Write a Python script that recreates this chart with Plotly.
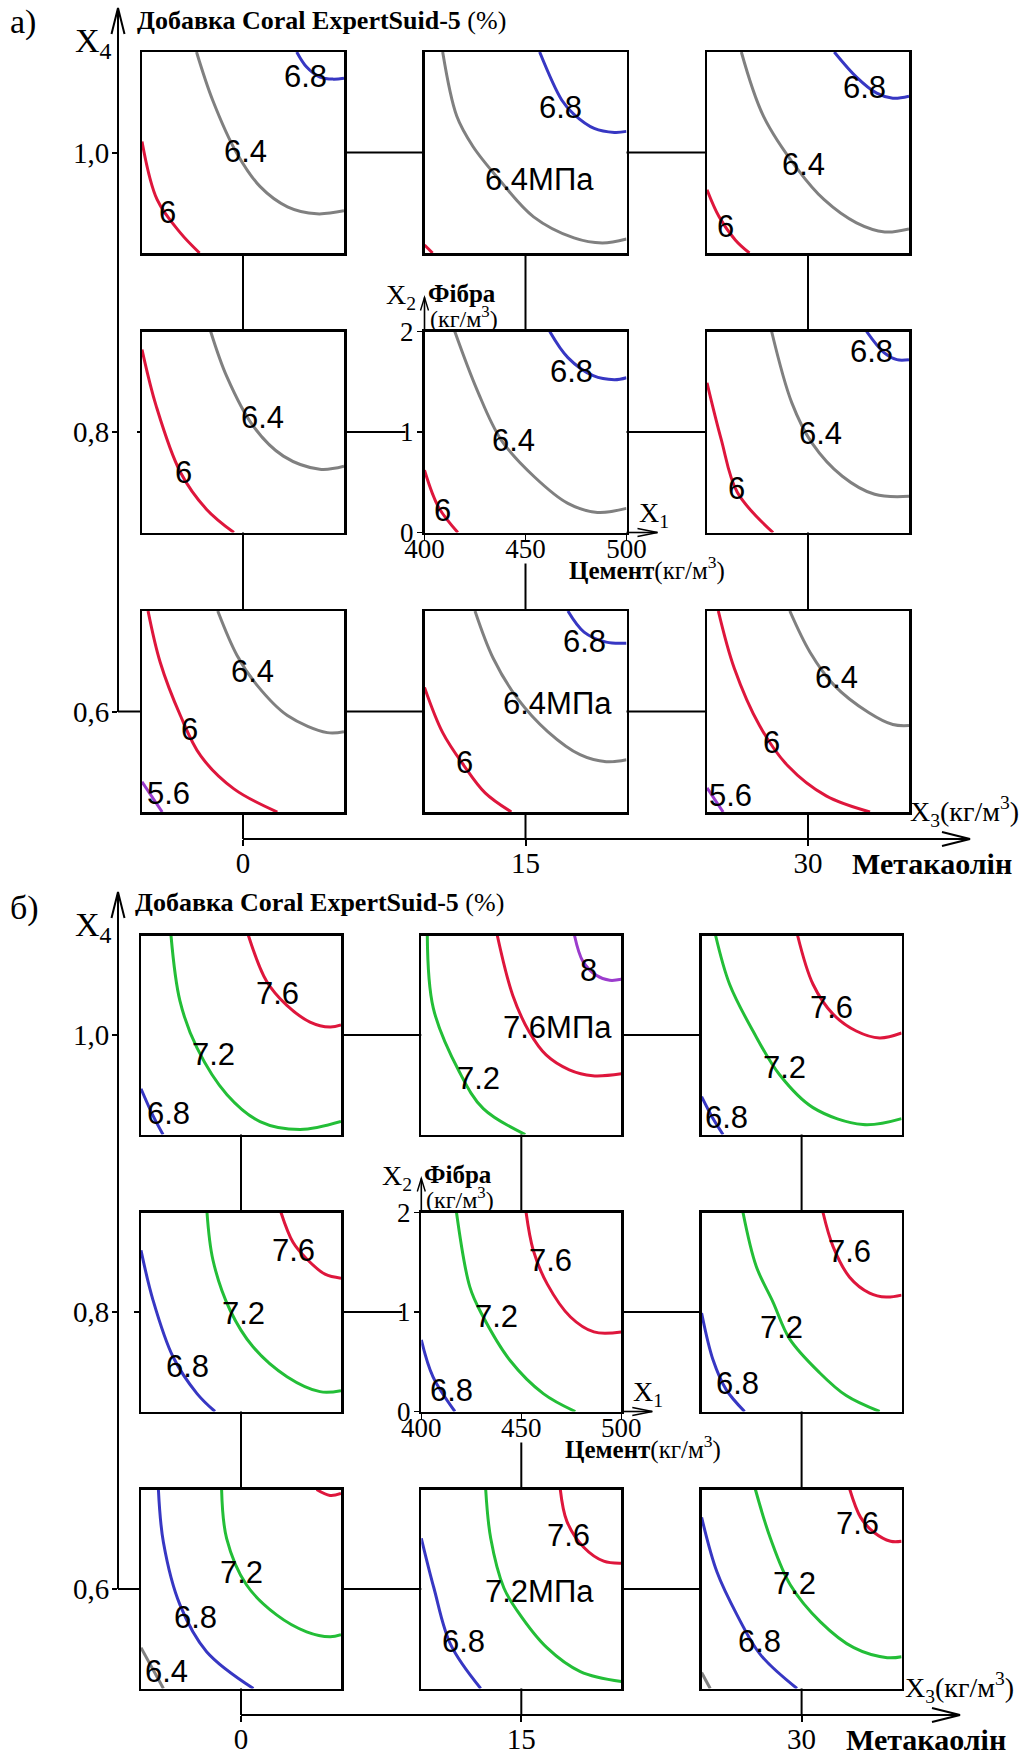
import plotly.graph_objects as go

W, H = 1033, 1755

# ---------------- data ----------------
X1_RANGE = [400, 500]            # Цемент, кг/м3
X2_RANGE = [0, 2]                # Фібра, кг/м3
X1_TICKS = [400, 450, 500]
X2_TICKS = [0, 1, 2]
X3_TICKS = [0, 15, 30]           # Метакаолін, кг/м3
X4_TICKS = [1.0, 0.8, 0.6]       # Добавка Coral ExpertSuid-5, %
X4_TICKTEXT = ["1,0", "0,8", "0,6"]

# isolines: (level, X1 points, X2 points); labels: (text, X1, X2)
# ---- panel а)
A_R0C0 = [(6.4, [427, 435, 447, 458.5, 472, 486.5, 500], [2, 1.52, 0.99, 0.66, 0.46, 0.39, 0.42]),
          (6.0, [400, 407.5, 419, 428.5], [1.11, 0.53, 0.2, 0]),
          (6.8, [476.6, 481.5, 488.1, 494.7, 500], [2, 1.85, 1.75, 1.73, 1.74])]
A_R0C0_LAB = [("6.4", 451, 1.01), ("6", 412.4, 0.40), ("6.8", 480.7, 1.76)]
A_R0C1 = [(6.4, [409, 416, 424, 437, 454, 474, 488, 500], [2, 1.36, 1.06, 0.73, 0.36, 0.15, 0.1, 0.14]),
          (6.8, [457, 468, 474, 484, 494, 500], [2, 1.52, 1.38, 1.24, 1.2, 1.21]),
          (6.0, [400, 404], [0.08, 0])]
A_R0C1_LAB = [("6.8", 467.4, 1.45), ("6.4МПа", 457, 0.73)]
A_R0C2 = [(6.4, [417, 428, 445, 458, 474, 488, 500], [2, 1.36, 0.83, 0.53, 0.3, 0.21, 0.24]),
          (6.8, [463, 474, 484, 492, 500], [2, 1.75, 1.59, 1.54, 1.56]),
          (6.0, [400, 406, 414, 421], [0.63, 0.36, 0.13, 0])]
A_R0C2_LAB = [("6.4", 448, 0.88), ("6.8", 478, 1.65), ("6", 409, 0.26)]
A_R1C0 = [(6.4, [434, 442, 455, 470, 488, 500], [2, 1.55, 1.06, 0.76, 0.63, 0.66]),
          (6.0, [400, 407, 419, 432, 445.5], [1.82, 1.26, 0.6, 0.23, 0])]
A_R1C0_LAB = [("6.4", 459.5, 1.14), ("6", 420.7, 0.6)]
A_R1C1 = [(6.4, [415, 426, 438, 454.6, 471, 485.6, 500], [2, 1.42, 0.92, 0.55, 0.29, 0.2, 0.24]),
          (6.8, [462, 471, 483.5, 494, 500], [2, 1.74, 1.56, 1.52, 1.54]),
          (6.0, [400, 407, 416.5], [0.62, 0.25, 0])]
A_R1C1_LAB = [("6.4", 444, 0.92), ("6.8", 473, 1.6), ("6", 409, 0.22)]
A_R1C2 = [(6.4, [432, 442, 452, 467, 483, 500], [2, 1.29, 0.89, 0.56, 0.38, 0.36]),
          (6.8, [479, 487.6, 494, 500], [2, 1.79, 1.72, 1.72]),
          (6.0, [400, 407, 415, 432.7], [1.49, 0.93, 0.4, 0])]
A_R1C2_LAB = [("6.4", 456, 0.99), ("6.8", 481.6, 1.8), ("6", 414.7, 0.44)]
A_R2C0 = [(6.4, [437.5, 447, 457, 472, 491.7, 500], [2, 1.56, 1.26, 0.96, 0.79, 0.8]),
          (6.0, [403, 409, 419, 429, 445.5, 467], [2, 1.49, 0.96, 0.56, 0.23, 0]),
          (5.6, [400, 410], [0.3, 0])]
A_R2C0_LAB = [("6.4", 454.5, 1.4), ("6", 423.6, 0.82), ("5.6", 413, 0.18)]
A_R2C1 = [(6.4, [425, 434, 446, 461, 477, 490, 500], [2, 1.53, 1.13, 0.8, 0.57, 0.5, 0.52]),
          (6.8, [471, 479, 490, 500], [2, 1.79, 1.69, 1.68]),
          (6.0, [400, 409, 419.6, 430, 443], [1.24, 0.79, 0.46, 0.19, 0])]
A_R2C1_LAB = [("6.4МПа", 466, 1.08), ("6.8", 479, 1.7), ("6", 419.6, 0.49)]
A_R2C2 = [(6.4, [441, 451, 463, 480, 492, 500], [2, 1.59, 1.26, 0.99, 0.87, 0.86]),
          (6.0, [405.6, 413.5, 426, 440, 459, 480.7], [2, 1.43, 0.86, 0.46, 0.16, 0]),
          (5.6, [400, 408], [0.24, 0])]
A_R2C2_LAB = [("6.4", 464, 1.34), ("6", 432, 0.69), ("5.6", 411.4, 0.16)]

# ---- panel б)
B_R0C0 = [(7.2, [415, 419.5, 428, 443, 459.5, 479.5, 500], [2, 1.34, 0.87, 0.4, 0.13, 0.05, 0.13]),
          (7.6, [453.7, 462.8, 472.8, 484.5, 494.5, 500], [2, 1.54, 1.3, 1.13, 1.08, 1.1]),
          (6.8, [400, 406, 411], [0.46, 0.19, 0])]
B_R0C0_LAB = [("7.2", 436, 0.8), ("7.6", 468, 1.42), ("6.8", 413.7, 0.21)]
B_R0C1 = [(7.2, [403, 406, 419, 431, 452], [2, 1.27, 0.63, 0.26, 0]),
          (7.6, [438, 445.7, 454, 462.4, 474, 485.7, 500], [2, 1.4, 1.03, 0.8, 0.65, 0.59, 0.61]),
          (8.0, [476.6, 480.8, 487.5, 494.2, 500], [2, 1.74, 1.6, 1.55, 1.56])]
B_R0C1_LAB = [("7.2", 428.7, 0.56), ("7.6МПа", 468, 1.08), ("8", 483.4, 1.65)]
B_R0C2 = [(7.2, [407, 414, 425.7, 439, 455.7, 480.7, 500], [2, 1.51, 1.04, 0.6, 0.27, 0.1, 0.16]),
          (7.6, [448, 455.7, 465.7, 477.3, 489, 500], [2, 1.51, 1.21, 1.04, 0.97, 1.02]),
          (6.8, [400, 405.7, 410.7], [0.38, 0.16, 0])]
B_R0C2_LAB = [("7.2", 441.5, 0.67), ("7.6", 464.8, 1.28), ("6.8", 412.3, 0.17)]
B_R1C0 = [(7.2, [433, 436, 444.5, 456, 473, 489.5, 500], [2, 1.52, 1.02, 0.65, 0.35, 0.2, 0.21]),
          (7.6, [470, 476, 483, 492, 500], [2, 1.7, 1.53, 1.38, 1.34]),
          (6.8, [400, 406, 416, 428, 437], [1.62, 1.12, 0.55, 0.18, 0])]
B_R1C0_LAB = [("7.2", 451, 0.99), ("7.6", 476, 1.62), ("6.8", 423, 0.45)]
B_R1C1 = [(7.2, [417.6, 424.3, 430.2, 444.5, 461, 477], [2, 1.25, 0.98, 0.51, 0.18, 0]),
          (7.6, [452.4, 456, 463, 474.6, 486.3, 500], [2, 1.62, 1.28, 0.95, 0.8, 0.8]),
          (6.8, [400, 405.8, 416.8], [0.72, 0.35, 0])]
B_R1C1_LAB = [("7.2", 437.8, 0.95), ("7.6", 464.5, 1.52), ("6.8", 415, 0.21)]
B_R1C2 = [(7.2, [420.7, 427.3, 435.7, 444, 459, 472.3, 489], [2, 1.46, 1.1, 0.73, 0.39, 0.16, 0]),
          (7.6, [460.7, 465.7, 474, 484, 492.3, 500], [2, 1.66, 1.35, 1.19, 1.15, 1.17]),
          (6.8, [400, 405.7, 412.3, 421.5], [0.99, 0.52, 0.22, 0])]
B_R1C2_LAB = [("7.2", 439.8, 0.84), ("7.6", 474, 1.61), ("6.8", 417.7, 0.28)]
B_R2C0 = [(7.2, [440.3, 442.8, 452.8, 467.8, 482.8, 494.5, 500], [2, 1.51, 1.04, 0.74, 0.57, 0.52, 0.54]),
          (7.6, [487.8, 494.5, 500], [2, 1.94, 1.96]),
          (6.8, [408.7, 411.2, 419.5, 432.8, 456.2], [2, 1.47, 0.84, 0.37, 0]),
          (6.4, [400, 411.2], [0.41, 0])]
B_R2C0_LAB = [("7.2", 450.3, 1.17), ("6.8", 427, 0.71), ("6.4", 412.8, 0.17)]
B_R2C1 = [(6.8, [400, 406.3, 414.7, 429.7], [1.51, 1.01, 0.44, 0]),
          (7.2, [432.2, 434.7, 441.3, 448, 462.8, 479.5, 500], [2, 1.51, 1.01, 0.78, 0.41, 0.17, 0.07]),
          (7.6, [469.5, 472.8, 481.2, 491.2, 500], [2, 1.68, 1.42, 1.28, 1.26])]
B_R2C1_LAB = [("6.8", 421, 0.47), ("7.6", 473.7, 1.54), ("7.2МПа", 459, 0.97)]
B_R2C2 = [(7.2, [426.9, 434.4, 444.4, 459.4, 476.1, 492.8, 500], [2, 1.51, 1.04, 0.67, 0.41, 0.31, 0.32]),
          (7.6, [474.1, 479.5, 486.1, 494.5, 500], [2, 1.72, 1.57, 1.48, 1.48]),
          (6.8, [400, 407.7, 417.7, 429.4, 447.7], [1.72, 1.17, 0.74, 0.34, 0]),
          (6.4, [400, 404.3], [0.16, 0])]
B_R2C2_LAB = [("7.2", 446.6, 1.06), ("7.6", 477.8, 1.66), ("6.8", 429, 0.47)]

# ---------------- styles ----------------
LEVEL_COLOR = {5.6: "rgb(155,60,205)", 6.0: "rgb(222,22,60)", 6.4: "rgb(128,128,128)",
               6.8: "rgb(55,55,195)", 7.2: "rgb(35,190,55)", 7.6: "rgb(222,22,60)",
               8.0: "rgb(155,60,205)"}
SERIF = "Liberation Serif, Times New Roman, serif"
SANS = "Liberation Sans, Arial, sans-serif"

PANELS = [
    dict(boxes=[[A_R0C0, A_R0C1, A_R0C2], [A_R1C0, A_R1C1, A_R1C2], [A_R2C0, A_R2C1, A_R2C2]],
         labels=[[A_R0C0_LAB, A_R0C1_LAB, A_R0C2_LAB], [A_R1C0_LAB, A_R1C1_LAB, A_R1C2_LAB],
                 [A_R2C0_LAB, A_R2C1_LAB, A_R2C2_LAB]],
         letter="а)", x3_0=243, x3_per=282.5 / 15, x4_1=152.5, x4_per=279.5 / 0.2,
         bw=202, bh=201, x4_axis=118, x3_axis=839, x4_tip=8, x3_tip=970,
         letter_y=22, title_x=135, title_y=20, stub=5, x3lab_x=908),
    dict(boxes=[[B_R0C0, B_R0C1, B_R0C2], [B_R1C0, B_R1C1, B_R1C2], [B_R2C0, B_R2C1, B_R2C2]],
         labels=[[B_R0C0_LAB, B_R0C1_LAB, B_R0C2_LAB], [B_R1C0_LAB, B_R1C1_LAB, B_R1C2_LAB],
                 [B_R2C0_LAB, B_R2C1_LAB, B_R2C2_LAB]],
         letter="б)", x3_0=241, x3_per=280.3 / 15, x4_1=1035, x4_per=277 / 0.2,
         bw=200, bh=199, x4_axis=118, x3_axis=1715, x4_tip=892, x3_tip=960,
         letter_y=908, title_x=133, title_y=903, stub=7, x3lab_x=903),
]


def px(x):
    return x / W


def py(y):
    return 1 - y / H


fig = go.Figure()
layout = {}
shapes = []
annotations = []


def seg(x0, y0, x1, y1, width=2.0):
    shapes.append(dict(type="line", xref="paper", yref="paper", x0=px(x0), y0=py(y0),
                       x1=px(x1), y1=py(y1), line=dict(color="black", width=width)))


def arrow_head(tx, ty, dx, dy, back, half, width=2.0):
    # open V arrowhead at tip (tx,ty) pointing along unit (dx,dy)
    bx, by = tx - dx * back, ty - dy * back
    nx, ny = -dy, dx
    p1 = (bx + nx * half, by + ny * half)
    p2 = (bx - nx * half, by - ny * half)
    path = "M {} {} L {} {} L {} {}".format(px(p1[0]), py(p1[1]), px(tx), py(ty), px(p2[0]), py(p2[1]))
    shapes.append(dict(type="path", xref="paper", yref="paper", path=path,
                       line=dict(color="black", width=width)))


def text(x, y, s, size, family=SERIF, xanchor="left", yanchor="middle"):
    annotations.append(dict(x=px(x), y=py(y), xref="paper", yref="paper", text=s, showarrow=False,
                            xanchor=xanchor, yanchor=yanchor,
                            font=dict(family=family, size=size, color="black")))


n = 0
for P in PANELS:
    def X3px(v, P=P):
        return P["x3_0"] + v * P["x3_per"]

    def X4px(v, P=P):
        return P["x4_1"] + (1.0 - v) * P["x4_per"]

    bw, bh = P["bw"], P["bh"]
    cxs = [X3px(v) for v in X3_TICKS]
    cys = [X4px(v) for v in X4_TICKS]

    # ---- connectors
    for r, cy in enumerate(cys):
        for c in range(2):
            xa = cxs[c] + bw / 2
            xb = cxs[c + 1] - bw / 2
            if r == 1 and c == 0:
                xb -= 19
            seg(xa, cy, xb, cy)
    for c, cx in enumerate(cxs):
        seg(cx, cys[0] + bh / 2, cx, cys[1] - bh / 2)
        y_start = cys[1] + bh / 2 + (31 if c == 1 else 0)
        seg(cx, y_start, cx, cys[2] - bh / 2)
        seg(cx, cys[2] + bh / 2, cx, P["x3_axis"])
    seg(P["x4_axis"], cys[2], cxs[0] - bw / 2, cys[2])
    seg(cxs[0] - bw / 2 - P["stub"], cys[1], cxs[0] - bw / 2, cys[1])

    # ---- 3x3 small isoline plots
    for r, x4 in enumerate(X4_TICKS):
        for c, x3 in enumerate(X3_TICKS):
            n += 1
            xn = "x" if n == 1 else "x%d" % n
            yn = "y" if n == 1 else "y%d" % n
            cx, cy = cxs[c], cys[r]
            x0, x1 = cx - bw / 2, cx + bw / 2
            y0, y1 = cy - bh / 2, cy + bh / 2
            center = (r == 1 and c == 1)
            common = dict(showgrid=False, zeroline=False, showline=True, mirror=True,
                          linecolor="black", linewidth=2.5, fixedrange=True, automargin=False)
            xa = dict(domain=[px(x0), px(x1)], range=X1_RANGE, anchor=yn, **common)
            ya = dict(domain=[py(y1), py(y0)], range=X2_RANGE, anchor=xn, **common)
            if center:
                tk = dict(ticks="outside", ticklen=5, tickwidth=1.5, tickcolor="black",
                          showticklabels=True, tickfont=dict(family=SERIF, size=27, color="black"))
                xa.update(tickvals=X1_TICKS, ticklabelstandoff=-14, **tk)
                ya.update(tickvals=X2_TICKS, ticklabelstandoff=-2, **tk)
            else:
                xa.update(ticks="", showticklabels=False)
                ya.update(ticks="", showticklabels=False)
            layout["xaxis" if n == 1 else "xaxis%d" % n] = xa
            layout["yaxis" if n == 1 else "yaxis%d" % n] = ya

            for level, xs, ys in P["boxes"][r][c]:
                fig.add_trace(go.Scatter(x=xs, y=ys, mode="lines", xaxis=xn, yaxis=yn,
                                         line=dict(color=LEVEL_COLOR[level], width=3,
                                                   shape="spline", smoothing=1.0),
                                         showlegend=False, hoverinfo="skip"))
            for s, lx, ly in P["labels"][r][c]:
                annotations.append(dict(x=lx, y=ly, xref=xn, yref=yn, text=s, showarrow=False,
                                        xanchor="center", yanchor="middle",
                                        font=dict(family=SANS, size=31, color="black")))

            if center:
                # X1 / X2 arrows and titles of the inner axes
                arrow_tip_y = y0 - 34
                seg(x0, y0, x0, arrow_tip_y, 1.6)
                arrow_head(x0, arrow_tip_y, 0, -1, 13, 4, 1.4)
                arrow_tip_x = x1 + 31
                seg(x1, y1, arrow_tip_x, y1, 1.6)
                arrow_head(arrow_tip_x, y1, 1, 0, 20, 4, 1.4)
                text(x0 - 41, y0 - 35, "X<sub>2</sub>", 28)
                text(x0 + 1, y0 - 38, "<b>Фібра</b>", 25)
                text(x0 + 3, y0 - 15, "(кг/м<sup>3</sup>)", 24)
                text(x1 + 10, y1 - 18, "X<sub>1</sub>", 28)
                text(x0 + 142, y1 + 36, "<b>Цемент</b>(кг/м<sup>3</sup>)", 25)

    # ---- big X3 / X4 axes
    n += 1
    xn, yn = "x%d" % n, "y%d" % n
    big_tick = dict(ticks="outside", tickwidth=2, tickcolor="black", showline=True,
                    linecolor="black", linewidth=2.2, showgrid=False, zeroline=False,
                    fixedrange=True, automargin=False,
                    tickfont=dict(family=SERIF, size=29, color="black"))
    layout["xaxis%d" % n] = dict(domain=[px(X3px(0)), px(P["x3_tip"])],
                                 range=[0, (P["x3_tip"] - X3px(0)) / P["x3_per"]],
                                 anchor="free", position=py(P["x3_axis"]), ticklen=6,
                                 ticklabelstandoff=-8,
                                 tickvals=X3_TICKS, ticktext=[str(v) for v in X3_TICKS], **big_tick)
    layout["yaxis%d" % n] = dict(domain=[py(X4px(0.6)), py(P["x4_tip"])],
                                 range=[0.6, 0.6 + (X4px(0.6) - P["x4_tip"]) / P["x4_per"]],
                                 anchor="free", position=px(P["x4_axis"]), ticklen=5,
                                 ticklabelstandoff=-3,
                                 tickvals=X4_TICKS, ticktext=X4_TICKTEXT, **big_tick)
    fig.add_trace(go.Scatter(x=X3_TICKS, y=X4_TICKS[::-1], mode="markers", xaxis=xn, yaxis=yn,
                             marker=dict(opacity=0), showlegend=False, hoverinfo="skip"))
    arrow_head(P["x4_axis"], P["x4_tip"], 0, -1, 26, 6.5, 2)
    arrow_head(P["x3_tip"], P["x3_axis"], 1, 0, 28, 7, 2)

    # ---- texts
    text(8, P["letter_y"], P["letter"], 34)
    text(73, P["x4_tip"] + 35, "X<sub>4</sub>", 34)
    text(P["title_x"], P["title_y"], "<b>Добавка Coral ExpertSuid-5</b> (%)", 26)
    text(P["x3lab_x"], P["x3_axis"] - 28, "X<sub>3</sub>(кг/м<sup>3</sup>)", 28)
    text(X3px(30) + 42, P["x3_axis"] + 24, "<b>Метакаолін</b>", 30)

fig.update_layout(width=W, height=H, autosize=False,
                  margin=dict(l=0, r=0, t=0, b=0, pad=0, autoexpand=False),
                  paper_bgcolor="white", plot_bgcolor="rgba(0,0,0,0)",
                  shapes=shapes, annotations=annotations, showlegend=False, **layout)
fig.write_html("out.html", config={"displayModeBar": False, "staticPlot": True},
               post_script="document.body.style.margin='0px';document.body.style.padding='0px';")
